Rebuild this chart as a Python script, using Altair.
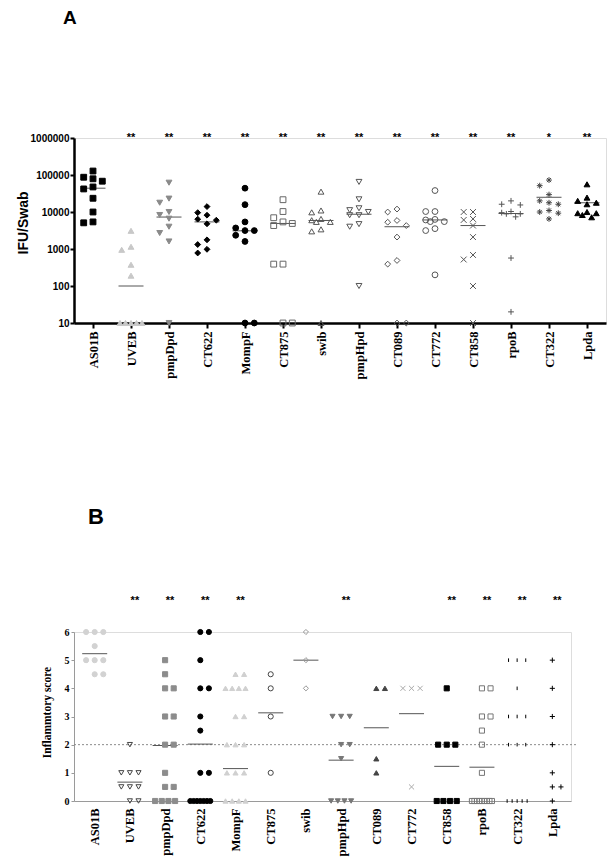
import altair as alt
import pandas as pd
import numpy as np

# ---------------- data ----------------
categories = ["AS01B", "UVEB", "pmpDpd", "CT622", "MompF", "CT875", "swib",
              "pmpHpd", "CT089", "CT772", "CT858", "rpoB", "CT322", "Lpda"]

# Panel A: IFU per swab (log scale), one list per group
ifu_values = [
    [128000, 87000, 79000, 68000, 47500, 42000, 23500, 10000, 5400, 5100],
    [3100, 1150, 950, 375, 190, 10, 10, 10, 10, 10],
    [62000, 23000, 17800, 10000, 8300, 6600, 4000, 2700, 1600, 10],
    [14000, 9600, 8200, 6400, 6000, 4800, 1770, 1320, 980, 780],
    [44000, 15800, 5400, 3700, 3150, 3150, 2350, 1600, 10, 10],
    [21500, 10300, 7000, 5400, 4900, 4300, 390, 390, 10, 10],
    [35500, 11000, 9800, 6500, 6000, 5400, 5400, 3400, 3000, 10],
    [65000, 22000, 12600, 11200, 10000, 8200, 8200, 4700, 4000, 100],
    [12000, 10000, 5900, 5300, 4300, 2100, 490, 390, 10, 10],
    [38000, 10300, 10300, 6300, 6100, 5500, 5500, 3550, 3150, 200],
    [10000, 10000, 6500, 6100, 4300, 2100, 690, 520, 100, 10],
    [20000, 16200, 15500, 10300, 9600, 8900, 8900, 7400, 570, 20],
    [73000, 51500, 29500, 20000, 17800, 16200, 11000, 10000, 9300, 6500],
    [56000, 24500, 20000, 17800, 16200, 10000, 9300, 9300, 8300, 7200],
]
ifu_medians = [44000, 100, 7300, 5400, 3100, 4900, 5900, 8700, 4000, 6100, 4300, 9100, 25000, 17800]
ifu_sig = ["", "**", "**", "**", "**", "**", "**", "**", "**", "**", "**", "**", "*", "**"]

# Panel B: inflammatory score
score_values = [
    [6, 6, 6, 5.5, 5, 5, 5, 4.5, 4.5],
    [2, 1, 1, 1, 0.5, 0.5, 0.5, 0, 0],
    [5, 4.5, 4, 4, 3, 3, 2, 2, 1, 0.5, 0.5, 0, 0, 0, 0],
    [6, 6, 5, 4, 4, 3, 2.5, 1, 1, 0, 0, 0, 0, 0, 0, 0],
    [4.5, 4.5, 4, 4, 4, 4, 3, 3, 2, 2, 2, 1, 1, 1, 0, 0, 0, 0],
    [4.5, 4, 3, 1],
    [6, 5, 4],
    [3, 3, 3, 2, 2, 1.5, 0, 0, 0, 0],
    [4, 4, 1.5, 1],
    [4, 4, 4, 0.5],
    [4, 2, 2, 2, 0, 0, 0, 0],
    [4, 4, 3, 3, 2.5, 2, 1, 0, 0, 0, 0, 0, 0, 0, 0, 0],
    [5, 5, 5, 4, 3, 3, 3, 2, 2, 2, 0, 0, 0, 0, 0],
    [5, 4, 3, 2, 1, 0.5, 0.5, 0],
]
score_means = [5.23, 0.67, 1.97, 2.02, 1.15, 3.13, 5.0, 1.45, 2.6, 3.1, 1.23, 1.2, None, None]
score_sig = ["", "**", "**", "**", "**", "", "", "**", "", "", "**", "**", "**", "**"]
score_cutoff = 2
score_sig_level = 7.1

# ---------------- layout / style ----------------
A_W, A_H = 532, 185
A_DOM = [-0.5, 13.5]
B_W, B_H = 497, 169
B_DOM = [-0.588, 13.53]
A_STEP = A_W / (A_DOM[1] - A_DOM[0])
B_STEP = B_W / (B_DOM[1] - B_DOM[0])

X_PATH = "M-1,-1L1,1M-1,1L1,-1"
PLUS_PATH = "M-1,0L1,0M0,-1L0,1"
AST_PATH = "M-1,0L1,0M0,-1L0,1M-0.7,-0.7L0.7,0.7M-0.7,0.7L0.7,-0.7"
VBAR_PATH = "M0,-0.7L0,0.7"

A_shapes = ["square", "triangle-up", "triangle-down", "diamond", "circle", "square", "triangle-up",
            "triangle-down", "diamond", "circle", X_PATH, PLUS_PATH, AST_PATH, "triangle-up"]
A_fill = ["#000000", "#c8c8c8", "#8a8a8a", "#000000", "#000000", "transparent", "transparent",
          "transparent", "transparent", "transparent", "transparent", "transparent", "transparent", "#000000"]
A_stroke = ["#000000", "#c8c8c8", "#8a8a8a", "#000000", "#000000", "#666666", "#555555",
            "#555555", "#555555", "#555555", "#555555", "#555555", "#444444", "#000000"]

B_shapes = ["circle", "triangle-down", "square", "circle", "triangle-up", "circle", "diamond",
            "triangle-down", "triangle-up", X_PATH, "square", "square", VBAR_PATH, PLUS_PATH]
B_fill = ["#d2d2d2", "transparent", "#8c8c8c", "#000000", "#d0d0d0", "transparent", "transparent",
          "#777777", "#444444", "transparent", "#000000", "transparent", "transparent", "transparent"]
B_stroke = ["#d2d2d2", "#444444", "#8c8c8c", "#000000", "#d0d0d0", "#444444", "#999999",
            "#777777", "#444444", "#aaaaaa", "#000000", "#777777", "#000000", "#000000"]


def row_offsets(n, slot, max_w):
    if n <= 3:
        return [s * slot for s in [0, 1, -1][:n]]
    w = min(slot * (n - 1), max_w)
    return list(np.linspace(-w / 2, w / 2, n))


def swarm(vals, to_px, slot, thr, floor_value):
    """Spread points of one column sideways so that markers do not overlap."""
    offs = [0.0] * len(vals)
    placed = []
    order = sorted(range(len(vals)), key=lambda i: -vals[i])
    floor_idx = [i for i in order if vals[i] <= floor_value]
    cands = [0, -1, 1, -0.5, 0.5]
    for i in order:
        if vals[i] <= floor_value:
            continue
        y = to_px(vals[i])
        best, best_d = 0, -1.0
        for k in cands:
            d = min([np.hypot((k - pk) * slot, y - py) for pk, py in placed] + [1e9])
            if d >= thr:
                best = k
                break
            if d > best_d:
                best, best_d = k, d
        placed.append((best, y))
        offs[i] = best * slot
    for o, i in zip(row_offsets(len(floor_idx), slot, 22), floor_idx):
        offs[i] = o
    return offs


def rows(vals, slot, max_w):
    offs = [0.0] * len(vals)
    groups = {}
    for i, v in enumerate(vals):
        groups.setdefault(v, []).append(i)
    for v, idxs in groups.items():
        for o, i in zip(row_offsets(len(idxs), slot, max_w), idxs):
            offs[i] = o
    return offs


def a_px(v):
    return A_H * (1 - (np.log10(v) - 1) / 5)


# ---------------- build tables ----------------
a_rows = []
for gi, (cat, vals) in enumerate(zip(categories, ifu_values)):
    offs = swarm(vals, a_px, 9.3, 6.5, 10)
    for v, o in zip(vals, offs):
        a_rows.append({"cat": cat, "x": gi + o / A_STEP, "v": v})
a_pts = pd.DataFrame(a_rows)
a_med = pd.DataFrame({"cat": categories,
                      "x1": [i - 12.5 / A_STEP for i in range(len(categories))],
                      "x2": [i + 12.5 / A_STEP for i in range(len(categories))],
                      "v": ifu_medians})
a_sig = pd.DataFrame({"x": list(range(len(categories))), "lab": ifu_sig,
                      "v": [1e6] * len(categories)})
a_sig = a_sig[a_sig["lab"] != ""]

b_rows = []
for gi, (cat, vals) in enumerate(zip(categories, score_values)):
    offs = rows(vals, 8.6, 20)
    for v, o in zip(vals, offs):
        b_rows.append({"grp": cat, "x": gi + o / B_STEP, "v": v})
b_pts = pd.DataFrame(b_rows)
b_mean = pd.DataFrame([{"x1": i - 12.5 / B_STEP, "x2": i + 12.5 / B_STEP, "v": m}
                       for i, m in enumerate(score_means) if m is not None])
b_sig = pd.DataFrame({"x": [i + 5 / B_STEP for i in range(len(categories))], "lab": score_sig,
                      "v": [score_sig_level] * len(categories)})
b_sig = b_sig[b_sig["lab"] != ""]
b_cut = pd.DataFrame({"x1": [B_DOM[0]], "x2": [13.68], "v": [score_cutoff]})

label_expr = "[" + ",".join("'%s'" % c for c in categories) + "][datum.value]"

# ---------------- panel A ----------------
ax_a_x = alt.Axis(values=list(range(len(categories))), labelExpr=label_expr, title=None,
                  grid=False, labelAngle=-90, labelFont="Liberation Serif", labelFontWeight="bold",
                  labelFontSize=12.5, labelColor="#000", labelPadding=3, tickSize=5, tickWidth=2,
                  tickColor="#000", domainColor="#000", domainWidth=2.5)
ax_a_y = alt.Axis(values=[10, 100, 1000, 10000, 100000, 1000000], format="d", grid=False,
                  labelFont="Liberation Sans", labelFontWeight="bold", labelFontSize=10,
                  labelColor="#000", labelPadding=1, tickSize=4, tickWidth=2, tickColor="#000",
                  domainColor="#000", domainWidth=2.5, title="IFU/Swab",
                  titleFont="Liberation Sans", titleFontWeight="bold", titleFontSize=14,
                  titleColor="#000", titleAngle=270, titleBaseline="alphabetic",
                  titleAlign="center", titleX=-47, titleY=84.5)
sx_a = alt.Scale(domain=A_DOM, nice=False, zero=False)
sy_a = alt.Scale(type="log", domain=[10, 1e6], nice=False)

a_points = alt.Chart(a_pts).mark_point(opacity=1, size=34, strokeWidth=1).encode(
    x=alt.X("x:Q", scale=sx_a, axis=ax_a_x),
    y=alt.Y("v:Q", scale=sy_a, axis=ax_a_y),
    shape=alt.Shape("cat:N", scale=alt.Scale(domain=categories, range=A_shapes), legend=None),
    fill=alt.Fill("cat:N", scale=alt.Scale(domain=categories, range=A_fill), legend=None),
    stroke=alt.Stroke("cat:N", scale=alt.Scale(domain=categories, range=A_stroke), legend=None),
)
a_lines = alt.Chart(a_med).mark_rule(color="#555555", strokeWidth=1).encode(
    x=alt.X("x1:Q", scale=sx_a, axis=ax_a_x), x2="x2:Q",
    y=alt.Y("v:Q", scale=sy_a, axis=ax_a_y))
a_stars = alt.Chart(a_sig).mark_text(font="Liberation Sans", fontSize=11, fontWeight="bold",
                                     baseline="middle", color="#000").encode(
    x=alt.X("x:Q", scale=sx_a, axis=ax_a_x),
    y=alt.Y("v:Q", scale=sy_a, axis=ax_a_y), text="lab:N")

panel_a = alt.layer(a_lines, a_points, a_stars).properties(
    width=A_W, height=A_H,
    title=alt.TitleParams("A", anchor="start", frame="group", font="Liberation Sans",
                          fontSize=19, fontWeight="bold", color="#000", dx=-11, offset=85,
                          baseline="bottom"))

# ---------------- panel B ----------------
ax_b_x = alt.Axis(values=list(range(len(categories))), labelExpr=label_expr, title=None,
                  grid=False, labelAngle=-90, labelFont="Liberation Serif", labelFontWeight="bold",
                  labelFontSize=12.5, labelColor="#000", labelPadding=7, ticks=False,
                  domainColor="#9a9a9a", domainWidth=1)
ax_b_y = alt.Axis(values=[0, 1, 2, 3, 4, 5, 6], grid=False, labelFont="Liberation Serif",
                  labelFontWeight="bold", labelFontSize=10, labelColor="#000", labelPadding=2,
                  tickSize=3, tickWidth=1, tickColor="#9a9a9a", domainColor="#9a9a9a",
                  domainWidth=1, title="Inflammtory score", titleFont="Liberation Serif",
                  titleFontWeight="bold", titleFontSize=11.5, titleColor="#000", titleAngle=270,
                  titleBaseline="alphabetic", titleAlign="center", titleX=-24, titleY=80)
sx_b = alt.Scale(domain=B_DOM, nice=False, zero=False)
sy_b = alt.Scale(domain=[0, 6], nice=False)

b_points = alt.Chart(b_pts).mark_point(opacity=1, size=26, strokeWidth=1).encode(
    x=alt.X("x:Q", scale=sx_b, axis=ax_b_x),
    y=alt.Y("v:Q", scale=sy_b, axis=ax_b_y),
    shape=alt.Shape("grp:N", scale=alt.Scale(domain=categories, range=B_shapes), legend=None),
    fill=alt.Fill("grp:N", scale=alt.Scale(domain=categories, range=B_fill), legend=None),
    stroke=alt.Stroke("grp:N", scale=alt.Scale(domain=categories, range=B_stroke), legend=None),
)
b_lines = alt.Chart(b_mean).mark_rule(color="#555555", strokeWidth=1).encode(
    x=alt.X("x1:Q", scale=sx_b, axis=ax_b_x), x2="x2:Q",
    y=alt.Y("v:Q", scale=sy_b, axis=ax_b_y))
b_cutline = alt.Chart(b_cut).mark_rule(color="#8a8a8a", strokeWidth=1, strokeDash=[2, 2]).encode(
    x=alt.X("x1:Q", scale=sx_b, axis=ax_b_x), x2="x2:Q",
    y=alt.Y("v:Q", scale=sy_b, axis=ax_b_y))
b_stars = alt.Chart(b_sig).mark_text(font="Liberation Sans", fontSize=11, fontWeight="bold",
                                     baseline="middle", color="#000").encode(
    x=alt.X("x:Q", scale=sx_b, axis=ax_b_x),
    y=alt.Y("v:Q", scale=sy_b, axis=ax_b_y), text="lab:N")

panel_b = alt.layer(b_cutline, b_lines, b_points, b_stars).properties(
    width=B_W, height=B_H,
    title=alt.TitleParams("B", anchor="start", frame="group", font="Liberation Sans",
                          fontSize=22, fontWeight="bold", color="#000", dx=14, offset=44,
                          baseline="bottom"))

chart = alt.vconcat(panel_a, panel_b, spacing=125).resolve_scale(
    shape="independent", fill="independent", stroke="independent"
).properties(
    padding={"left": 7, "top": 0, "right": 0, "bottom": 5}
).configure_view(strokeWidth=0).configure(background="white")

chart.save("out.html", embed_options={"renderer": "svg", "actions": False})
